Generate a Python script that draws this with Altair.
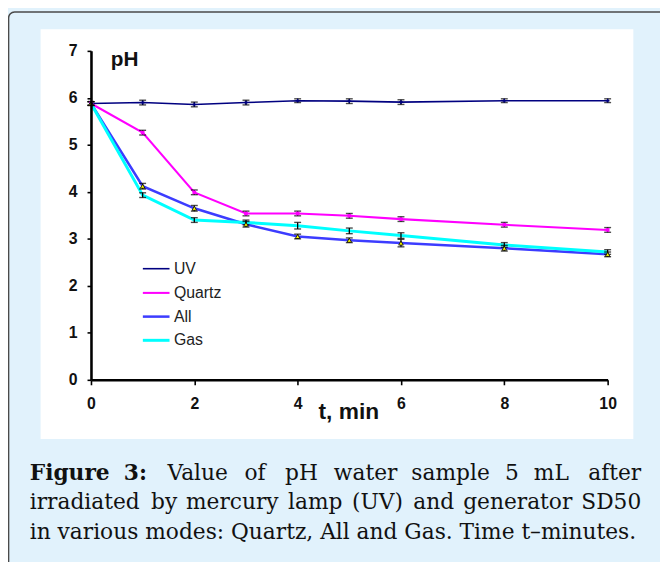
import altair as alt
import pandas as pd

# ---------------- data ----------------
t_min = [0, 1, 2, 3, 4, 5, 6, 8, 10]
series_names = ["UV", "Quartz", "All", "Gas"]
series_colors = ["#000080", "#ff00ff", "#3c3cff", "#00ffff"]
series_widths = [1.6, 3.0, 1.1, 3.0]

ph_uv = [5.88, 5.90, 5.86, 5.90, 5.94, 5.93, 5.91, 5.94, 5.94]
ph_quartz = [5.88, 5.26, 3.99, 3.54, 3.54, 3.49, 3.42, 3.30, 3.19]
ph_all = [5.88, 4.12, 3.65, 3.31, 3.05, 2.97, 2.91, 2.80, 2.67]
ph_gas = [5.88, 3.93, 3.40, 3.35, 3.28, 3.17, 3.07, 2.87, 2.72]

err_uv = [0.04, 0.05, 0.05, 0.05, 0.04, 0.05, 0.05, 0.04, 0.04]
err_quartz = [0.04, 0.05, 0.05, 0.05, 0.05, 0.05, 0.05, 0.05, 0.05]
err_all = [0.04, 0.06, 0.06, 0.06, 0.05, 0.05, 0.08, 0.06, 0.05]
err_gas = [0.04, 0.05, 0.05, 0.05, 0.07, 0.06, 0.06, 0.05, 0.05]

x_ticks = [0, 2, 4, 6, 8, 10]
y_ticks = [0, 1, 2, 3, 4, 5, 6, 7]

y_title = "pH"
x_title = "t, min"
caption_line1 = ["Figure", "3:", "Value", "of", "pH", "water", "sample", "5", "mL", "after"]
caption_line2 = ["irradiated", "by", "mercury", "lamp", "(UV)", "and", "generator", "SD50"]
caption_line3 = "in various modes: Quartz, All and Gas. Time t\u2013minutes."

# ---------------- table ----------------
values = [ph_uv, ph_quartz, ph_all, ph_gas]
errors = [err_uv, err_quartz, err_all, err_gas]
rows = []
for name, vals, errs in zip(series_names, values, errors):
    for t, v, e in zip(t_min, vals, errs):
        rows.append({"t": t, "pH": v, "lo": v - e, "hi": v + e, "series": name})
df = pd.DataFrame(rows)

# ---------------- layout helpers (page px -> plot px) ----------------
PX0, PY0 = 92, 48
W, H = 523, 333


def px(v):
    return v - PX0


def py(v):
    return v - PY0


AX_FONT = "Liberation Sans"
xs = alt.Scale(domain=[0, 10], nice=False, zero=False)
ys = alt.Scale(domain=[0, 7], nice=False, zero=False)
xaxis = alt.Axis(values=x_ticks, title=None, grid=False, labelFont=AX_FONT, labelFontSize=16,
                 labelFontWeight="bold", labelColor="#111", labelPadding=11, tickSize=5,
                 tickWidth=1.6, tickColor="black", domainColor="black", domainWidth=2.6,
                 labelFlush=False, zindex=2)
yaxis = alt.Axis(values=y_ticks, title=None, grid=False, labelFont=AX_FONT, labelFontSize=16,
                 labelFontWeight="bold", labelColor="#111", labelPadding=10, tickSize=4,
                 tickWidth=1.6, tickColor="black", domainColor="black", domainWidth=2.6,
                 labelFlush=False, zindex=2)
X = alt.X("t:Q", scale=xs, axis=xaxis)
Y = alt.Y("pH:Q", scale=ys, axis=yaxis)

legend = alt.Legend(orient="none", legendX=px(143), legendY=py(254), title=None,
                    symbolType="stroke", symbolSize=729, labelFont=AX_FONT, labelFontSize=16,
                    labelColor="#222", labelOffset=3, rowPadding=1, padding=0)

dummy = pd.DataFrame({"d": [0]})


def deco_rect(x1, x2, y1, y2, **kw):
    return alt.Chart(dummy).mark_rect(**kw).encode(
        x=alt.value(px(x1)), x2=alt.value(px(x2)), y=alt.value(py(y1)), y2=alt.value(py(y2)))


def deco_text(txt, x, y, **kw):
    return alt.Chart(dummy).mark_text(text=txt, **kw).encode(x=alt.value(px(x)), y=alt.value(py(y)))


border = deco_rect(8.6, 800, 8.6, 700, fillOpacity=0, stroke="#4a4a4a", strokeWidth=1.5,
                   cornerRadius=6)
white = deco_rect(41, 641, 26, 441, color="white")

base = alt.Chart(df)
lines = base.mark_line().encode(
    x=X, y=Y,
    color=alt.Color("series:N", scale=alt.Scale(domain=series_names, range=series_colors), legend=legend),
    strokeWidth=alt.StrokeWidth("series:N", scale=alt.Scale(domain=series_names, range=series_widths),
                                legend=legend),
)
err_rule = base.mark_rule(color="black", strokeWidth=1.3).encode(
    x=X, y=alt.Y("lo:Q", scale=ys, axis=yaxis), y2="hi:Q")
err_lo = base.mark_tick(orient="horizontal", color="black", size=7, thickness=1.4).encode(
    x=X, y=alt.Y("lo:Q", scale=ys, axis=yaxis))
err_hi = base.mark_tick(orient="horizontal", color="black", size=7, thickness=1.4).encode(
    x=X, y=alt.Y("hi:Q", scale=ys, axis=yaxis))

quartz_pts = base.transform_filter(alt.datum.series == "Quartz").mark_square(
    color="#ff00ff", size=14, opacity=1).encode(x=X, y=Y)
uv_pts = base.transform_filter(alt.datum.series == "UV").mark_point(
    shape="cross", color="#000080", filled=True, size=14, opacity=1).encode(x=X, y=Y)
all_pts = base.transform_filter(alt.datum.series == "All").mark_point(
    shape="triangle-up", fill="#ffff00", stroke="black", strokeWidth=0.8, filled=False,
    size=22, opacity=1, fillOpacity=1).encode(x=X, y=Y)

title_y = deco_text(y_title, 112, 57, font=AX_FONT, fontSize=21, fontWeight="bold",
                    align="left", baseline="middle", color="#111")
title_x = deco_text(x_title, 353, 414, font=AX_FONT, fontSize=23, fontWeight="bold",
                    align="center", baseline="middle", color="#111")

# caption
CAP_FONT = "DejaVu Serif"
CAP_SIZE = 22
cap_layers = []


def cap_word(w, x, y, align, bold=False):
    return deco_text(w, x, y, font=CAP_FONT, fontSize=CAP_SIZE, align=align, baseline="alphabetic",
                     color="#111", fontWeight="bold" if bold else "normal")


# line 1: justified (first word left edge, last word right edge, others centred)
l1_pos = [30, 137, 200, 258, 305, 370, 456, 518, 558, 649]
for i, (w, c) in enumerate(zip(caption_line1, l1_pos)):
    al = "left" if i == 0 else ("right" if i == len(caption_line1) - 1 else "center")
    cap_layers.append(cap_word(w, c, 482, al, bold=w in ("Figure", "3:")))
l2_pos = [30, 166, 235, 319, 382, 439, 524, 649]
for i, (w, c) in enumerate(zip(caption_line2, l2_pos)):
    al = "left" if i == 0 else ("right" if i == len(caption_line2) - 1 else "center")
    cap_layers.append(cap_word(w, c, 512, al))
cap_layers.append(cap_word(caption_line3, 30, 542, "left"))

chart = alt.layer(
    border, white, lines, err_rule, err_lo, err_hi, quartz_pts, uv_pts, all_pts,
    title_y, title_x, *cap_layers
).properties(
    width=W, height=H,
    autosize=alt.AutoSizeParams(type="none"),
    padding={"left": PX0 - 8, "top": PY0 - 8, "right": 660 - (PX0 - 8) - W, "bottom": 554 - (PY0 - 8) - H},
    background="#e1f2fc",
).configure_view(stroke=None)

chart.save("out.html", embed_options={"renderer": "svg", "actions": False})
